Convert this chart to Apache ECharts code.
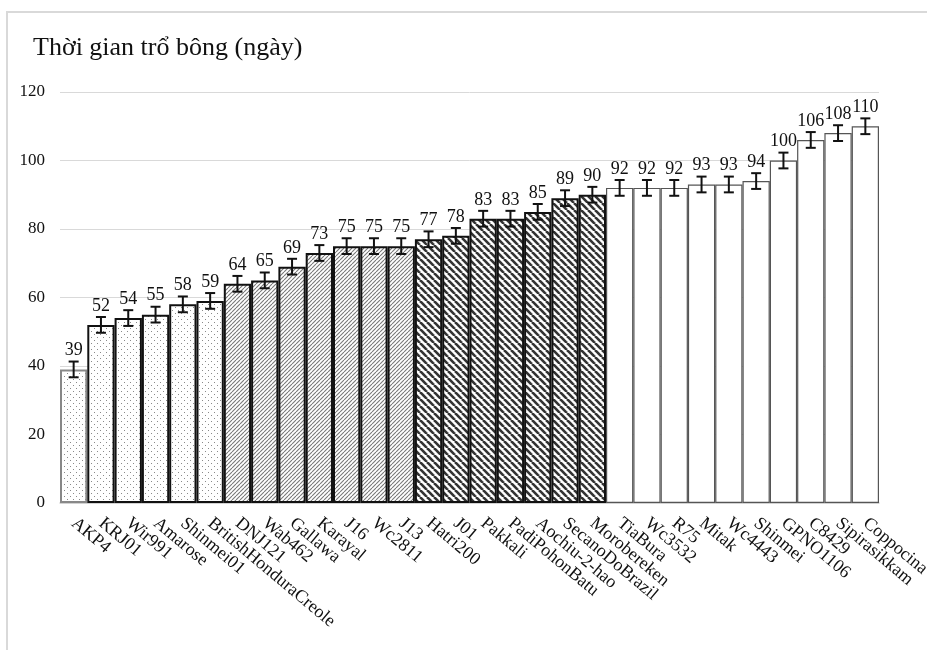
<!DOCTYPE html>
<html>
<head>
<meta charset="utf-8">
<script src="https://cdn.jsdelivr.net/npm/echarts@6/dist/echarts.min.js"></script>
<style>html,body{margin:0;padding:0;background:#fff}#c{width:927px;height:650px}</style>
</head>
<body>
<div id="c"></div>
<script>
var categories = ["AKP4","KRJ01","Wir991","Amarose","Shinmei01","BritishHonduraCreole","DNJ121","Wab462","Gallawa","Karayal","J16","Wc2811","J13","Hatri200","J01","Pakkali","PadiPohonBatu","Aochiu-2-hao","SecanoDoBrazil","Morobereken","TiaBura","Wc3532","R75","Mitak","Wc4443","Shinmei","GPNO1106","C8429","Sipirasikkam","Coppocina"];
var values = [39,52,54,55,58,59,64,65,69,73,75,75,75,77,78,83,83,85,89,90,92,92,92,93,93,94,100,106,108,110];
var errors = [2.3,2.3,2.3,2.3,2.3,2.3,2.3,2.3,2.3,2.3,2.3,2.3,2.3,2.3,2.3,2.3,2.3,2.3,2.3,2.3,2.3,2.3,2.3,2.3,2.3,2.3,2.3,2.3,2.3,2.3];
// pattern group of each bar: 0 dots, 1 fine hatch, 2 heavy hatch, 3 plain
var groups = [0,0,0,0,0,0,1,1,1,1,1,1,1,2,2,2,2,2,2,2,3,3,3,3,3,3,3,3,3,3];
var yTicks = [0,20,40,60,80,100,120];

function makeTile(kind){
  var c = document.createElement('canvas');
  var s = kind===0 ? 6 : (kind===1 ? 4 : 7);
  c.width = s; c.height = s;
  var g = c.getContext('2d');
  g.fillStyle = '#fff'; g.fillRect(0,0,s,s);
  if(kind===0){
    g.fillStyle = '#8a8a8a';
    g.fillRect(1,1,1,1);
    g.fillRect(4,4,1,1);
  } else if(kind===1){
    g.strokeStyle = '#777'; g.lineWidth = 1.1;
    for(var k=-s;k<=s;k+=s){ g.beginPath(); g.moveTo(k,s); g.lineTo(k+s,0); g.stroke(); }
  } else {
    g.strokeStyle = '#333'; g.lineWidth = 2.6;
    for(var k=-s;k<=s;k+=s){ g.beginPath(); g.moveTo(k,0); g.lineTo(k+s,s); g.stroke(); }
  }
  return c;
}
var tiles = [makeTile(0), makeTile(1), makeTile(2)];

var barData = values.map(function(v,i){
  var gr = groups[i];
  var st;
  if(gr===3){ st = {color:'#fff', borderColor:'#555', borderWidth:1.2}; }
  else { st = {color:{image:tiles[gr], repeat:'repeat'}, borderColor: i===0 ? '#888' : '#111', borderWidth: 2}; }
  return {value:v, itemStyle:st};
});

var errData = values.map(function(v,i){ return [i, v, errors[i]]; });

var chart = echarts.init(document.getElementById('c'), null, {renderer:'canvas'});
chart.setOption({
  animation:false,
  backgroundColor:'#fff',
  title:{text:'Thời gian trổ bông (ngày)', left:28, top:30, textStyle:{fontFamily:'Liberation Serif', fontSize:26, fontWeight:'normal', color:'#111'}},
  graphic:[{type:'rect', shape:{x:7,y:12,width:1000,height:1000}, style:{fill:'none', stroke:'#d9d9d9', lineWidth:2}, silent:true}],
  grid:{left:60, right:48, top:92, bottom:147, outerBoundsMode:'none', containLabel:false},
  xAxis:{type:'category', data:categories,
    axisLine:{lineStyle:{color:'#d0d0d0', width:1.5}}, axisTick:{show:false},
    axisLabel:{interval:0, rotate:-40, margin:18, fontFamily:'Liberation Serif', fontSize:18, color:'#111'}},
  yAxis:{type:'value', min:yTicks[0], max:yTicks[yTicks.length-1], interval:20,
    axisLine:{show:false}, axisTick:{show:false},
    splitLine:{lineStyle:{color:'#d9d9d9', width:1}},
    axisLabel:{margin:15, fontFamily:'Liberation Serif', fontSize:17, color:'#111'}},
  series:[
    {type:'bar', data:barData, barCategoryGap:'0%', z:2},
    {type:'custom', data:errData, z:5,
      renderItem:function(params, api){
        var i = api.value(0), v = api.value(1), e = api.value(2);
        var top = api.coord([i, v+e]), bot = api.coord([i, v-e]);
        var x = top[0], cw = 5;
        var ls = {stroke:'#111', lineWidth:2};
        return {type:'group', children:[
          {type:'line', shape:{x1:x,y1:top[1],x2:x,y2:bot[1]}, style:ls},
          {type:'line', shape:{x1:x-cw,y1:top[1],x2:x+cw,y2:top[1]}, style:ls},
          {type:'line', shape:{x1:x-cw,y1:bot[1],x2:x+cw,y2:bot[1]}, style:ls},
          {type:'text', style:{text:String(v), x:x, y:top[1]-2, textAlign:'center', textVerticalAlign:'bottom', font:'18px "Liberation Serif"', fill:'#111'}}
        ]};
      }
    }
  ]
});
</script>
</body>
</html>
